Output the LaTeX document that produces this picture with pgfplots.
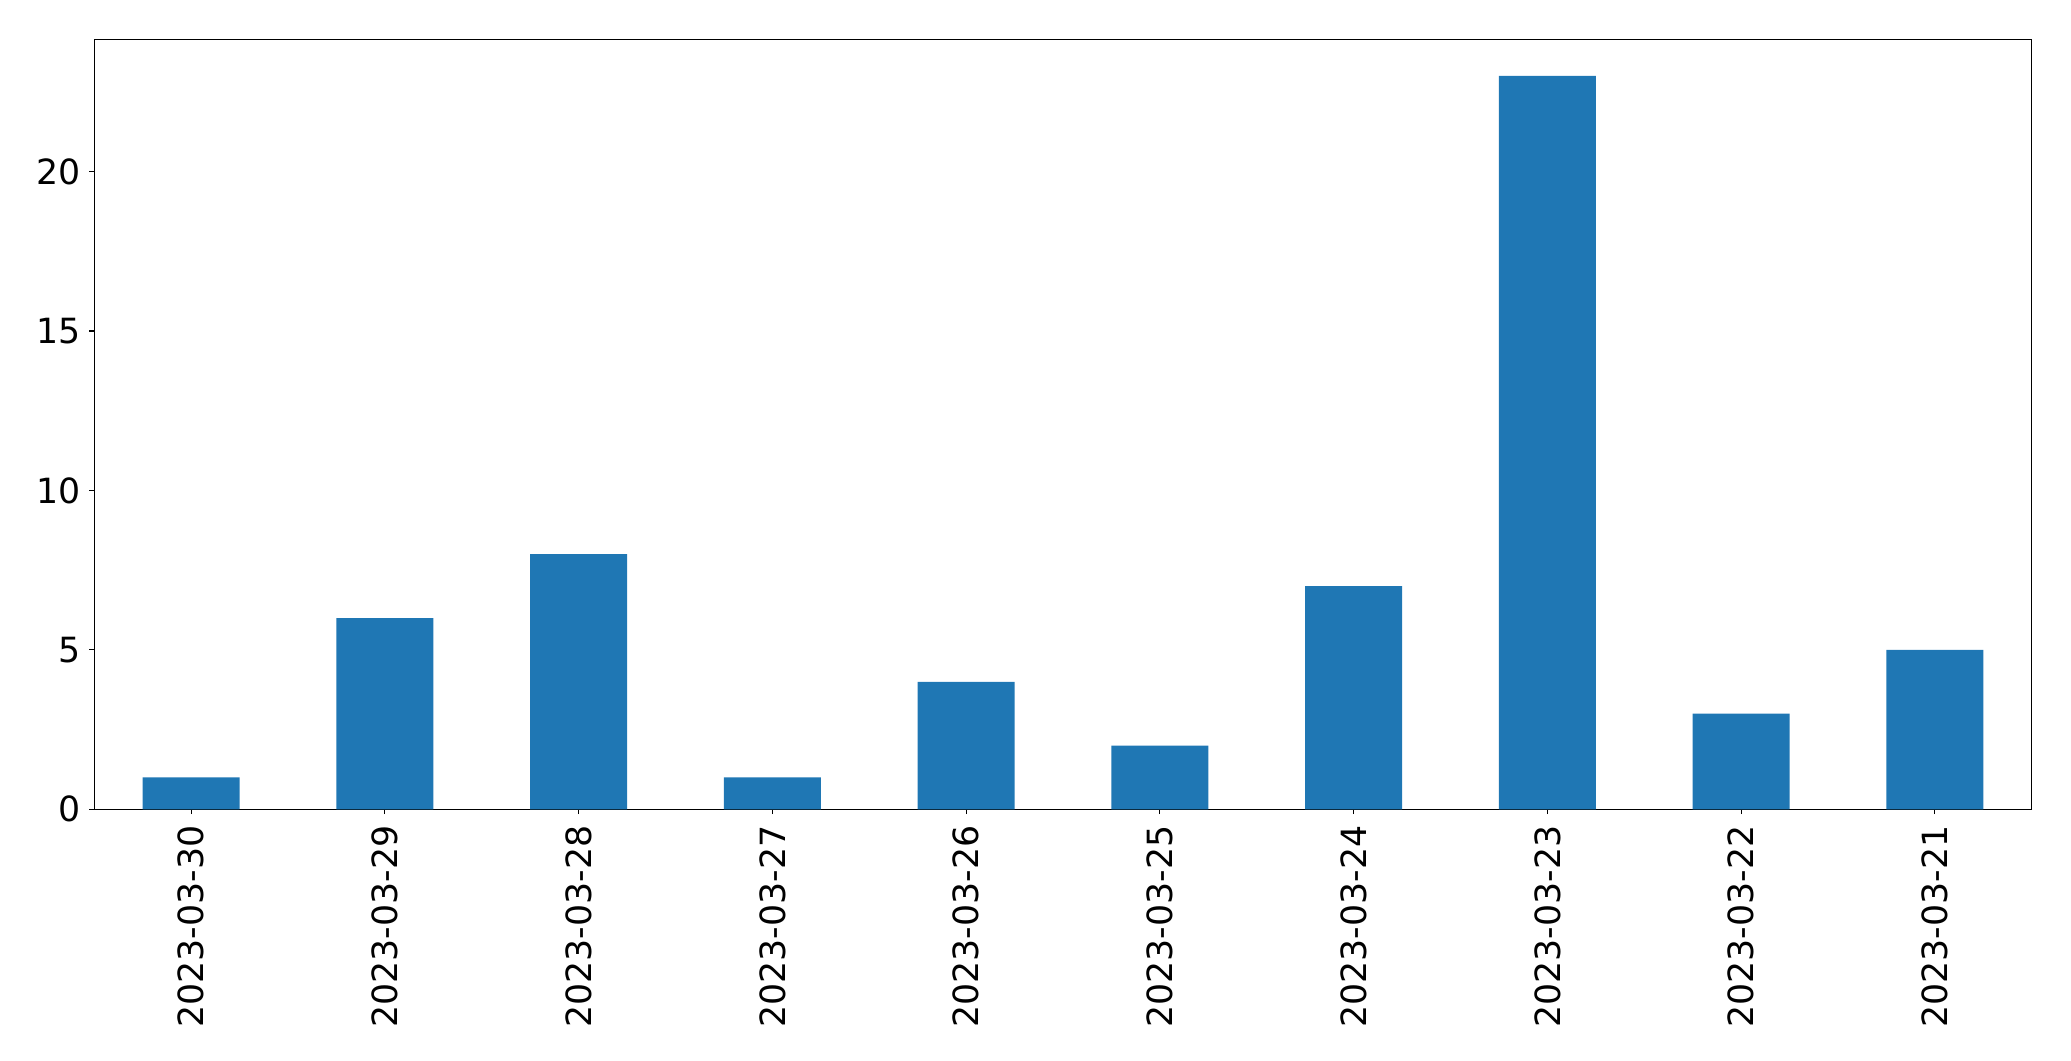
\documentclass[border=0pt]{standalone}
\usepackage{pgfplots}
\pgfplotsset{compat=1.18}
\usepackage{fontspec}
\setmainfont{DejaVu Sans}
\definecolor{barblue}{HTML}{1F77B4}
\begin{document}
\begin{tikzpicture}
\useasboundingbox (-67.9pt,-181.2pt) rectangle (1394.9pt+28.3pt,554.4pt+28.3pt);
\begin{axis}[
  at={(0,0)}, anchor=south west,
  scale only axis,
  width=1394.9pt, height=554.4pt,
  xmin=-0.5, xmax=9.5,
  ymin=0, ymax=24.15,
  axis line style={line width=0.8pt},
  tick style={line width=0.8pt, black},
  major tick length=3.5pt,
  tick align=outside,
  xtick pos=bottom, ytick pos=left,
  xtick={0,1,2,3,4,5,6,7,8,9},
  xticklabels={2023-03-30,2023-03-29,2023-03-28,2023-03-27,2023-03-26,2023-03-25,2023-03-24,2023-03-23,2023-03-22,2023-03-21},
  ytick={0,5,10,15,20},
  /pgf/number format/assume math mode=true,
  ticklabel style={font=\fontsize{25}{30}\selectfont},
  xticklabel style={rotate=90, anchor=east, inner sep=0pt, yshift=0pt},
  yticklabel style={inner sep=0pt},
  xticklabel shift=8pt,
  yticklabel shift=6pt,
  axis on top=false,
]
\addplot[ybar, bar width=0.5, fill=barblue, draw=none, bar shift=0pt] coordinates {
(0,1) (1,6) (2,8) (3,1) (4,4) (5,2) (6,7) (7,23) (8,3) (9,5)
};
\end{axis}
\end{tikzpicture}
\end{document}
